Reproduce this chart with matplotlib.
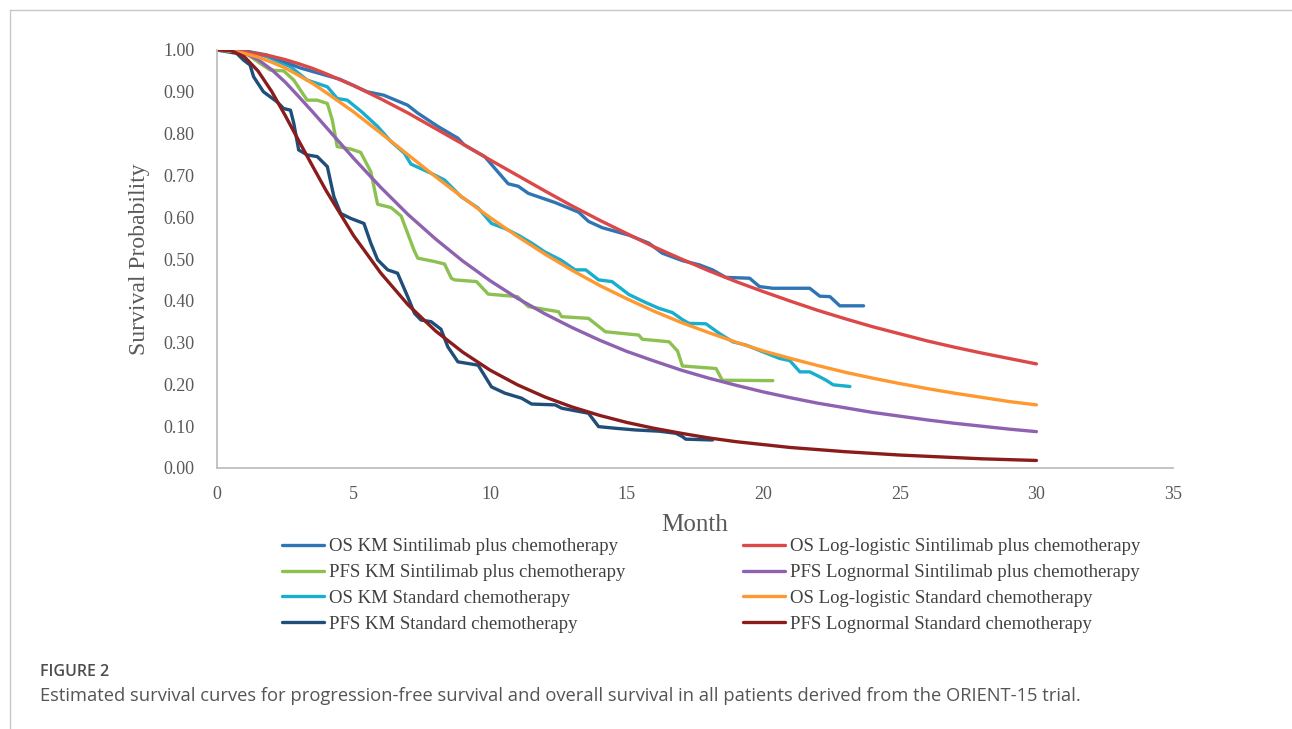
import matplotlib
matplotlib.use("Agg")
import matplotlib.pyplot as plt
from matplotlib.lines import Line2D

os_km_sint_t = [0, 1.0, 1.83, 3.05, 4.5, 5.5, 6.1, 6.98, 7.35, 8.09, 8.82, 9.05, 9.8, 10.17,
                10.66, 11.03, 11.4, 12.38, 13.24, 13.6, 14.1, 15.08, 15.81, 16.3, 17.04, 17.66,
                18.14, 18.63, 19.5, 19.86, 20.35, 21.7, 22.07, 22.44, 22.8, 23.67]
os_km_sint_s = [1.0, 0.998, 0.988, 0.957, 0.93, 0.90, 0.892, 0.868, 0.849, 0.817, 0.789, 0.773,
                0.745, 0.717, 0.68, 0.674, 0.657, 0.635, 0.612, 0.59, 0.575, 0.557, 0.538, 0.514,
                0.496, 0.486, 0.474, 0.456, 0.454, 0.434, 0.430, 0.430, 0.411, 0.41, 0.388, 0.388]

pfs_km_sint_t = [0, 1.0, 1.58, 1.95, 2.44, 2.81, 3.3, 3.67, 4.04, 4.22, 4.4, 4.9, 5.26, 5.63,
                 5.88, 6.37, 6.74, 7.22, 7.35, 7.96, 8.33, 8.58, 8.7, 9.5, 9.93, 11.0, 11.4, 12.5,
                 12.62, 13.6, 14.22, 15.44, 15.57, 16.55, 16.86, 17.04, 18.27, 18.5, 20.35]
pfs_km_sint_s = [1.0, 0.995, 0.968, 0.952, 0.950, 0.928, 0.880, 0.880, 0.872, 0.833, 0.769, 0.763,
                 0.755, 0.709, 0.631, 0.623, 0.603, 0.52, 0.502, 0.494, 0.488, 0.454, 0.450, 0.446,
                 0.416, 0.41, 0.386, 0.374, 0.362, 0.358, 0.326, 0.318, 0.308, 0.302, 0.28, 0.244,
                 0.238, 0.21, 0.209]

os_km_std_t = [0, 1.0, 1.83, 2.69, 3.3, 4.04, 4.4, 4.77, 5.3, 5.88, 6.37, 6.86, 7.1, 7.84, 8.33,
               8.94, 9.56, 10.05, 10.54, 11.03, 11.52, 12.0, 12.6, 13.11, 13.5, 13.97, 14.46,
               15.08, 15.69, 16.18, 16.67, 17.04, 17.28, 17.9, 18.39, 18.88, 19.37, 19.98, 20.6,
               20.97, 21.34, 21.7, 22.07, 22.3, 22.56, 23.17]
os_km_std_s = [1.0, 0.998, 0.984, 0.96, 0.928, 0.912, 0.884, 0.880, 0.852, 0.817, 0.781, 0.753,
               0.727, 0.705, 0.689, 0.649, 0.622, 0.585, 0.573, 0.557, 0.538, 0.517, 0.497, 0.474,
               0.474, 0.450, 0.446, 0.415, 0.396, 0.382, 0.372, 0.355, 0.346, 0.345, 0.322, 0.302,
               0.294, 0.278, 0.262, 0.257, 0.23, 0.23, 0.218, 0.21, 0.199, 0.195]

pfs_km_std_t = [0, 0.72, 0.97, 1.21, 1.34, 1.7, 2.2, 2.44, 2.69, 2.81, 2.99, 3.3, 3.67, 4.04,
                4.28, 4.53, 4.9, 5.38, 5.63, 5.88, 6.25, 6.61, 6.98, 7.23, 7.47, 7.84, 8.2, 8.45,
                8.82, 9.56, 10.05, 10.54, 11.15, 11.52, 12.38, 12.62, 13.6, 13.97, 14.59, 15.32,
                16.2, 16.8, 17.04, 17.16, 18.14]
pfs_km_std_s = [1.0, 0.992, 0.976, 0.964, 0.936, 0.90, 0.876, 0.86, 0.856, 0.825, 0.761, 0.749,
                0.745, 0.721, 0.649, 0.609, 0.597, 0.585, 0.538, 0.498, 0.474, 0.466, 0.41, 0.37,
                0.354, 0.35, 0.332, 0.29, 0.254, 0.246, 0.194, 0.179, 0.167, 0.153, 0.151, 0.143,
                0.131, 0.099, 0.095, 0.091, 0.088, 0.083, 0.075, 0.069, 0.067]

# fitted parametric curves
fit_t = [0, 0.5, 1, 1.5, 2, 2.5, 3, 3.5, 4, 5, 6, 7, 8, 9, 10, 11, 12, 13, 14, 15, 16, 17,
         18, 19, 20, 21, 22, 23, 24, 25, 26, 27, 28, 29, 30]
os_ll_sint = [1.000, 0.999, 0.996, 0.991, 0.985, 0.977, 0.967, 0.956, 0.943, 0.915, 0.883,
              0.849, 0.812, 0.775, 0.737, 0.700, 0.663, 0.627, 0.593, 0.561, 0.529, 0.500,
              0.472, 0.446, 0.422, 0.399, 0.377, 0.357, 0.338, 0.321, 0.304, 0.289, 0.275,
              0.262, 0.249]
pfs_ln_sint = [1.000, 0.999, 0.993, 0.977, 0.953, 0.923, 0.888, 0.852, 0.815, 0.741, 0.671,
               0.606, 0.548, 0.495, 0.448, 0.406, 0.369, 0.336, 0.306, 0.279, 0.256, 0.234,
               0.215, 0.198, 0.182, 0.168, 0.155, 0.144, 0.133, 0.124, 0.115, 0.107, 0.100,
               0.093, 0.087]
os_ll_std = [1.000, 0.998, 0.992, 0.983, 0.971, 0.957, 0.939, 0.920, 0.898, 0.852, 0.801,
             0.749, 0.697, 0.647, 0.599, 0.554, 0.512, 0.473, 0.437, 0.405, 0.375, 0.348,
             0.324, 0.301, 0.280, 0.262, 0.245, 0.229, 0.215, 0.202, 0.190, 0.179, 0.169,
             0.159, 0.151]
pfs_ln_std = [1.000, 0.999, 0.984, 0.950, 0.901, 0.843, 0.782, 0.722, 0.663, 0.556, 0.466,
              0.390, 0.328, 0.277, 0.234, 0.199, 0.170, 0.146, 0.126, 0.109, 0.095, 0.083,
              0.072, 0.063, 0.056, 0.049, 0.044, 0.039, 0.035, 0.031, 0.028, 0.025, 0.022,
              0.020, 0.018]

serif = "Liberation Serif"
grey = "#595959"

fig = plt.figure(figsize=(12.92, 7.29), dpi=100)
ax = fig.add_axes([217 / 1292, 1 - 468 / 729, (1173 - 217) / 1292, (468 - 50) / 729])

lw = 2.4
kw = dict(lw=lw, solid_joinstyle="round", solid_capstyle="round")
ax.plot(pfs_km_std_t, pfs_km_std_s, color="#1f4e79", label="PFS KM Standard chemotherapy", **kw)
ax.plot(os_km_std_t, os_km_std_s, color="#17aed0", label="OS KM Standard chemotherapy", **kw)
ax.plot(pfs_km_sint_t, pfs_km_sint_s, color="#8cc152", label="PFS KM Sintilimab plus chemotherapy", **kw)
ax.plot(os_km_sint_t, os_km_sint_s, color="#2e75b6", label="OS KM Sintilimab plus chemotherapy", **kw)
ax.plot(fit_t, os_ll_sint, color="#dc4848", label="OS Log-logistic Sintilimab plus chemotherapy", **kw)
ax.plot(fit_t, pfs_ln_sint, color="#8e62b0", label="PFS Lognormal Sintilimab plus chemotherapy", **kw)
ax.plot(fit_t, os_ll_std, color="#ff982e", label="OS Log-logistic Standard chemotherapy", **kw)
ax.plot(fit_t, pfs_ln_std, color="#8b1c1c", label="PFS Lognormal Standard chemotherapy", **kw)

ax.set_xlim(0, 35)
ax.set_ylim(0, 1.0)
ax.set_xticks(range(0, 36, 5))
ax.set_yticks([i / 10 for i in range(11)])
ax.set_yticklabels([f"{i / 10:.2f}" for i in range(11)])
for s in ["top", "right"]:
    ax.spines[s].set_visible(False)
for s in ["left", "bottom"]:
    ax.spines[s].set_color("#bfbfbf")
    ax.spines[s].set_linewidth(1.3)
ax.tick_params(length=0, labelsize=13, labelcolor=grey)
for lab in ax.get_xticklabels() + ax.get_yticklabels():
    lab.set_family(serif)
ax.tick_params(axis="y", pad=16)
ax.tick_params(axis="x", pad=13)
ax.set_xlabel("Month", fontsize=18, family=serif, color=grey, labelpad=8)
ax.set_ylabel("Survival Probability", fontsize=17, family=serif, color=grey, labelpad=10)

# legend in Excel order (two columns)
h, l = ax.get_legend_handles_labels()
order = ["OS KM Sintilimab plus chemotherapy", "PFS KM Sintilimab plus chemotherapy",
         "OS KM Standard chemotherapy", "PFS KM Standard chemotherapy",
         "OS Log-logistic Sintilimab plus chemotherapy", "PFS Lognormal Sintilimab plus chemotherapy",
         "OS Log-logistic Standard chemotherapy", "PFS Lognormal Standard chemotherapy"]
hd = dict(zip(l, h))
fs = 13.5
px = fs * 100 / 72
fig.legend([hd[k] for k in order], order, ncol=2, loc="upper left",
           bbox_to_anchor=(282 / 1292, 1 - 538 / 729), frameon=False,
           prop={"family": serif, "size": fs}, labelcolor="#404040",
           handlelength=42 / px, handletextpad=5 / px, columnspacing=118 / px,
           labelspacing=0.47, borderpad=0, borderaxespad=0)

# panel border
fig.add_artist(Line2D([10 / 1292, 10 / 1292], [0, 1 - 10 / 729], color="#c8c8c8", lw=1,
                      transform=fig.transFigure))
fig.add_artist(Line2D([10 / 1292, 1], [1 - 10 / 729, 1 - 10 / 729], color="#c8c8c8", lw=1,
                      transform=fig.transFigure))

fig.text(40 / 1292, 1 - 672 / 729, "FIGURE 2", family="Open Sans", weight="semibold",
         fontsize=11.5, color="#4d4d4d", va="center", ha="left")
fig.text(40 / 1292, 1 - 696 / 729,
         "Estimated survival curves for progression-free survival and overall survival in all "
         "patients derived from the ORIENT-15 trial.",
         family="Open Sans", fontsize=13.25, color="#555555", va="center", ha="left")

fig.savefig("out.png", dpi=100)
plt.close(fig)
